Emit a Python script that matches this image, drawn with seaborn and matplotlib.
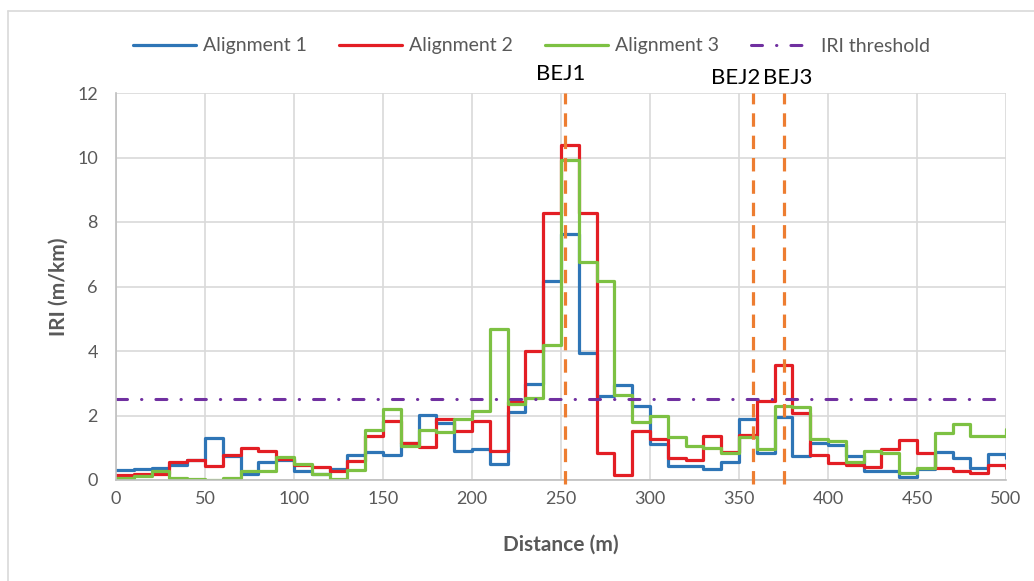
import numpy as np
import pandas as pd
import matplotlib
matplotlib.use("Agg")
import matplotlib.pyplot as plt
from matplotlib.lines import Line2D
import seaborn as sns

# distance (m), step start points, last value is the end point at 500 m
distance = list(range(0, 510, 10))

alignment_1 = [0.31, 0.33, 0.37, 0.45, 0.63, 1.30, 0.75, 0.20, 0.55, 0.62,
               0.28, 0.20, 0.33, 0.76, 0.86, 0.76, 1.15, 2.02, 1.77, 0.90,
               0.95, 0.51, 2.12, 2.98, 6.17, 7.62, 3.94, 2.59, 2.95, 2.30,
               1.11, 0.44, 0.44, 0.33, 0.57, 1.89, 0.83, 1.94, 0.75, 1.15,
               1.09, 0.73, 0.27, 0.27, 0.10, 0.33, 0.88, 0.67, 0.36, 0.81,
               0.67]
alignment_2 = [0.15, 0.20, 0.20, 0.57, 0.63, 0.43, 0.79, 0.98, 0.89, 0.64,
               0.45, 0.41, 0.28, 0.58, 1.35, 1.83, 1.15, 1.01, 1.90, 1.51,
               1.83, 0.90, 2.41, 3.99, 8.29, 10.40, 8.27, 0.85, 0.16, 1.52,
               1.27, 0.67, 0.62, 1.37, 0.88, 1.40, 2.46, 3.58, 2.07, 0.78,
               0.52, 0.47, 0.41, 0.96, 1.24, 0.83, 0.36, 0.29, 0.21, 0.47,
               0.36]
alignment_3 = [0.07, 0.13, 0.27, 0.06, 0.02, 0.00, 0.05, 0.29, 0.28, 0.70,
               0.51, 0.18, 0.03, 0.30, 1.56, 2.19, 1.04, 1.56, 1.50, 1.88,
               2.14, 4.69, 2.36, 2.54, 4.20, 9.92, 6.77, 6.17, 2.64, 1.81,
               1.99, 1.32, 1.04, 0.98, 0.83, 1.33, 0.96, 2.28, 2.25, 1.28,
               1.21, 0.55, 0.91, 0.85, 0.23, 0.36, 1.45, 1.73, 1.35, 1.35,
               1.58]

iri_threshold = 2.5
bej_names = ["BEJ1", "BEJ2", "BEJ3"]
bej_pos = [252, 358, 375]

series_names = ["Alignment 1", "Alignment 2", "Alignment 3"]
series_colors = ["#2E75B6", "#E31E24", "#7DC143"]

df = pd.DataFrame({"Distance": distance,
                   "Alignment 1": alignment_1,
                   "Alignment 2": alignment_2,
                   "Alignment 3": alignment_3})

sns.set_style("white")
plt.rcParams['font.family'] = ['Lato', 'DejaVu Sans']

fig = plt.figure(figsize=(10.34, 5.81), dpi=100)
ax = fig.add_axes([116 / 1034, 1 - 480 / 581, 890 / 1034, 387 / 581])

gray = "#595959"

for name, col in zip(series_names, series_colors):
    sns.lineplot(data=df, x="Distance", y=name, ax=ax, color=col, lw=2.3,
                 drawstyle="steps-post", label=name, legend=False)

ax.plot([distance[0], distance[-1]], [iri_threshold, iri_threshold],
        color="#7030A0", lw=2.2, dashes=(3.6, 4.6, 0.1, 4.6),
        dash_capstyle="round", label="IRI threshold")

for x in bej_pos:
    ax.axvline(x, ymin=-0.01, ymax=1.0, color="#ED7D31", lw=2.3,
               dashes=(4.2, 2.8), clip_on=False, zorder=5)

# label offsets so BEJ2 / BEJ3 do not overlap
ax.text(bej_pos[0] - 2, 12.6, bej_names[0], ha="center", va="center",
        fontsize=16, color="black")
ax.text(bej_pos[1] - 10, 12.45, bej_names[1], ha="center", va="center",
        fontsize=16, color="black")
ax.text(bej_pos[2] + 2.5, 12.45, bej_names[2], ha="center", va="center",
        fontsize=16, color="black")

ax.set_xlim(0, 500)
ax.set_ylim(0, 12)
ax.set_xticks(range(0, 501, 50))
ax.set_yticks(range(0, 13, 2))
ax.grid(True, color="#D9D9D9", lw=1.2)
ax.set_axisbelow(True)
for s in ["top", "right"]:
    ax.spines[s].set_visible(False)
for s in ["left", "bottom"]:
    ax.spines[s].set_color("#BFBFBF")
    ax.spines[s].set_linewidth(1.2)
ax.tick_params(axis="both", length=0, labelsize=13, labelcolor=gray)
ax.tick_params(axis="y", pad=13)
ax.tick_params(axis="x", pad=8)

ax.set_xlabel("Distance (m)", fontsize=15, fontweight="bold", color=gray, labelpad=20)
ax.set_ylabel("IRI (m/km)", fontsize=15, fontweight="bold", color=gray, labelpad=6)

handles = [Line2D([0], [0], color=c, lw=2.3) for c in series_colors]
handles.append(Line2D([0], [0], color="#7030A0", lw=2.2,
                      dashes=(3.6, 4.6, 0.1, 4.6), dash_capstyle="round"))
fig.legend(handles, series_names + ["IRI threshold"], loc="center",
           bbox_to_anchor=(0.514, 1 - 46 / 581), ncol=4, frameon=False,
           fontsize=14, labelcolor=gray, handlelength=3.25,
           handletextpad=0.36, columnspacing=1.65)

# chart border (left and top edges visible)
fig.add_artist(Line2D([8 / 1034, 8 / 1034], [0, 1 - 11 / 581],
                      transform=fig.transFigure, color="#D9D9D9", lw=1.2))
fig.add_artist(Line2D([8 / 1034, 1], [1 - 11 / 581, 1 - 11 / 581],
                      transform=fig.transFigure, color="#D9D9D9", lw=1.2))

fig.savefig("out.png", dpi=100, facecolor="white")
